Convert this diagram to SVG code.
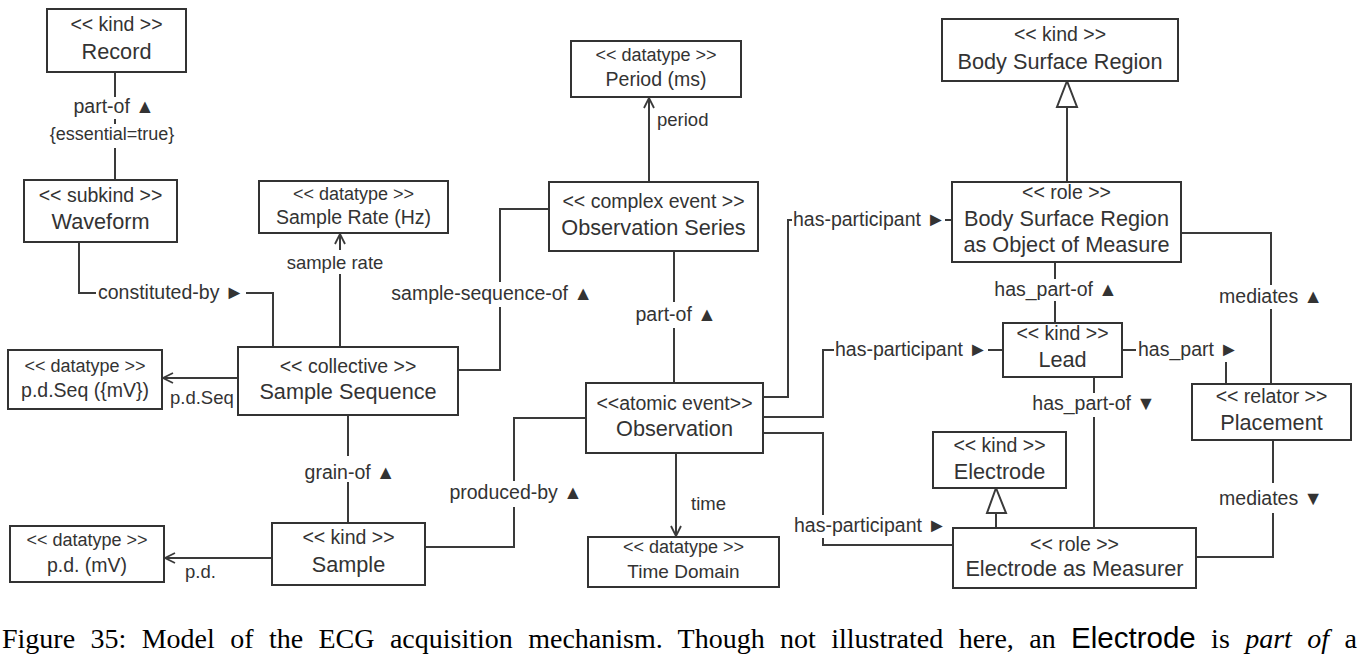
<svg xmlns="http://www.w3.org/2000/svg" width="1359" height="661" viewBox="0 0 1359 661">
<style>
.box{fill:#fff;stroke:#333;stroke-width:2}
.ln{fill:none;stroke:#3a3a3a;stroke-width:2}
text{font-family:"Liberation Sans",Arial,sans-serif;fill:#333}
.st{font-size:19.5px;text-anchor:middle}
.sd{font-size:18px;text-anchor:middle}
.nm{font-size:21.7px;text-anchor:middle}
.dn{font-size:19.5px;text-anchor:middle}
.lb{font-size:19.5px}
.lc{font-size:19.5px;text-anchor:middle}
.ls{font-size:18.5px}
.cap{font-family:"Liberation Serif","Times New Roman",serif;font-size:28px;fill:#000;word-spacing:8.4px}
.cs{font-family:"Liberation Sans",Arial,sans-serif;font-size:29.5px}
</style>
<defs>
<marker id="open" markerWidth="14" markerHeight="14" refX="11" refY="6" orient="auto" markerUnits="userSpaceOnUse">
<path d="M1,1 L11,6 L1,11" fill="none" stroke="#3a3a3a" stroke-width="1.8"/>
</marker>
</defs>

<g id="connectors">
<!-- Record - Waveform -->
<path class="ln" d="M115,72 V97 M115,119 V124 M115,148 V180"/>
<text class="lc" x="114" y="113">part-of ▲</text>
<text class="lc" x="112" y="140" style="font-size:18px">{essential=true}</text>
<!-- constituted-by -->
<path class="ln" d="M79,242 V293 H96 M246,293 H273 V347"/>
<text class="lb" x="98" y="299">constituted-by ►</text>
<!-- sample rate -->
<path class="ln" d="M340,347 V274"/>
<path class="ln" d="M340,250 V234" marker-end="url(#open)"/>
<text class="lc" x="335" y="269" style="font-size:18.5px">sample rate</text>
<!-- sample-sequence-of -->
<path class="ln" d="M458,370 H500 V307 M500,282 V209 H549"/>
<text class="lc" x="492" y="300">sample-sequence-of ▲</text>
<!-- p.d.Seq -->
<path class="ln" d="M238,378 H163" marker-end="url(#open)"/>
<text class="ls" x="170" y="404">p.d.Seq</text>
<!-- grain-of -->
<path class="ln" d="M348,415 V456 M348,482 V523"/>
<text class="lc" x="350" y="479">grain-of ▲</text>
<!-- p.d. -->
<path class="ln" d="M272,558 H165" marker-end="url(#open)"/>
<text class="ls" x="185" y="578">p.d.</text>
<!-- produced-by -->
<path class="ln" d="M425,547 H514 V507 M514,481 V418 H586"/>
<text class="lc" x="516" y="499">produced-by ▲</text>
<!-- period -->
<path class="ln" d="M649,182 V98" marker-end="url(#open)"/>
<text class="ls" x="657" y="126">period</text>
<!-- part-of -->
<path class="ln" d="M674,251 V302 M674,328 V383"/>
<text class="lc" x="676" y="321">part-of ▲</text>
<!-- has-participant to BSR as Object -->
<path class="ln" d="M763,397 H788 V220 H792 M945,220 H952"/>
<text class="lb" x="793" y="226">has-participant ►</text>
<!-- has-participant to Lead -->
<path class="ln" d="M763,417 H823 V350 H834 M988,350 H1003"/>
<text class="lb" x="835" y="356">has-participant ►</text>
<!-- has-participant to Electrode as Measurer -->
<path class="ln" d="M763,433 H823 V515 M823,538 V545 H953"/>
<text class="lb" x="794" y="532">has-participant ►</text>
<!-- time -->
<path class="ln" d="M676,453 V536" marker-end="url(#open)"/>
<text class="ls" x="691" y="510">time</text>
<!-- generalization BSR -->
<path class="ln" d="M1067,182 V107"/>
<polygon points="1067,81 1057,107 1077,107" fill="#fff" stroke="#3a3a3a" stroke-width="2"/>
<!-- has_part-of up -->
<path class="ln" d="M1055,262 V279 M1055,301 V323"/>
<text class="lc" x="1056" y="296">has_part-of ▲</text>
<!-- mediates up -->
<path class="ln" d="M1181,233 H1271 V285 M1271,309 V384"/>
<text class="lc" x="1271" y="303">mediates ▲</text>
<!-- has_part -->
<path class="ln" d="M1122,350 H1136 M1226,362 V384"/>
<text class="lb" x="1138" y="356">has_part ►</text>
<!-- has_part-of down -->
<path class="ln" d="M1094,377 V393 M1094,417 V528"/>
<text class="lc" x="1094" y="410">has_part-of ▼</text>
<!-- generalization Electrode -->
<path class="ln" d="M996,528 V513"/>
<polygon points="996,488 987,513 1006,513" fill="#fff" stroke="#3a3a3a" stroke-width="2"/>
<!-- mediates down -->
<path class="ln" d="M1273,440 V483 M1273,513 V557 H1196"/>
<text class="lc" x="1271" y="505">mediates ▼</text>
</g>

<g id="record"><rect class="box" x="47" y="9" width="139" height="63"/><text class="st" x="116.5" y="31">&lt;&lt; kind &gt;&gt;</text><text class="nm" x="116.5" y="59">Record</text></g>
<g id="waveform"><rect class="box" x="24" y="180" width="153" height="62"/><text class="st" x="100.5" y="202">&lt;&lt; subkind &gt;&gt;</text><text class="nm" x="100.5" y="229">Waveform</text></g>
<g id="sample-rate"><rect class="box" x="259" y="181" width="189" height="52"/><text class="sd" x="353.5" y="200">&lt;&lt; datatype &gt;&gt;</text><text class="dn" x="353.5" y="224">Sample Rate (Hz)</text></g>
<g id="period"><rect class="box" x="571" y="41" width="170" height="56"/><text class="sd" x="656" y="61">&lt;&lt; datatype &gt;&gt;</text><text class="dn" x="656" y="86">Period (ms)</text></g>
<g id="observation-series"><rect class="box" x="549" y="182" width="209" height="69"/><text class="st" x="653.5" y="208">&lt;&lt; complex event &gt;&gt;</text><text class="nm" x="653.5" y="235">Observation Series</text></g>
<g id="sample-sequence"><rect class="box" x="238" y="347" width="220" height="68"/><text class="st" x="348" y="373">&lt;&lt; collective &gt;&gt;</text><text class="nm" x="348" y="399">Sample Sequence</text></g>
<g id="pdseq"><rect class="box" x="8" y="350" width="154" height="59"/><text class="sd" x="85" y="372">&lt;&lt; datatype &gt;&gt;</text><text class="dn" x="85" y="397">p.d.Seq ({mV})</text></g>
<g id="sample"><rect class="box" x="272" y="523" width="153" height="62"/><text class="st" x="348.5" y="544">&lt;&lt; kind &gt;&gt;</text><text class="nm" x="348.5" y="572">Sample</text></g>
<g id="pd"><rect class="box" x="10" y="526" width="154" height="56"/><text class="sd" x="87" y="546">&lt;&lt; datatype &gt;&gt;</text><text class="dn" x="87" y="572">p.d. (mV)</text></g>
<g id="observation"><rect class="box" x="586" y="383" width="177" height="70"/><text class="st" x="674.5" y="410">&lt;&lt;atomic event&gt;&gt;</text><text class="nm" x="674.5" y="436">Observation</text></g>
<g id="time-domain"><rect class="box" x="588" y="537" width="191" height="50"/><text class="sd" x="683.5" y="553">&lt;&lt; datatype &gt;&gt;</text><text class="dn" x="683.5" y="578" style="font-size:19px">Time Domain</text></g>
<g id="body-surface-region"><rect class="box" x="942" y="19" width="236" height="62"/><text class="st" x="1060" y="41">&lt;&lt; kind &gt;&gt;</text><text class="nm" x="1060" y="69">Body Surface Region</text></g>
<g id="bsr-object"><rect class="box" x="952" y="182" width="229" height="80"/><text class="st" x="1066.5" y="199">&lt;&lt; role &gt;&gt;</text><text class="nm" x="1066.5" y="226">Body Surface Region</text><text class="nm" x="1066.5" y="252">as Object of Measure</text></g>
<g id="lead"><rect class="box" x="1003" y="323" width="119" height="54"/><text class="st" x="1062.5" y="340">&lt;&lt; kind &gt;&gt;</text><text class="nm" x="1062.5" y="367">Lead</text></g>
<g id="placement"><rect class="box" x="1192" y="384" width="159" height="56"/><text class="st" x="1271.5" y="403">&lt;&lt; relator &gt;&gt;</text><text class="nm" x="1271.5" y="430">Placement</text></g>
<g id="electrode"><rect class="box" x="933" y="432" width="133" height="56"/><text class="st" x="999.5" y="452">&lt;&lt; kind &gt;&gt;</text><text class="nm" x="999.5" y="479">Electrode</text></g>
<g id="electrode-measurer"><rect class="box" x="953" y="528" width="243" height="60"/><text class="st" x="1074.5" y="551">&lt;&lt; role &gt;&gt;</text><text class="nm" x="1074.5" y="576">Electrode as Measurer</text></g>

<text class="cap" x="2" y="648">Figure 35: Model of the ECG acquisition mechanism. Though not illustrated here, an <tspan class="cs">Electrode</tspan> is <tspan font-style="italic">part of</tspan> a</text>
</svg>
